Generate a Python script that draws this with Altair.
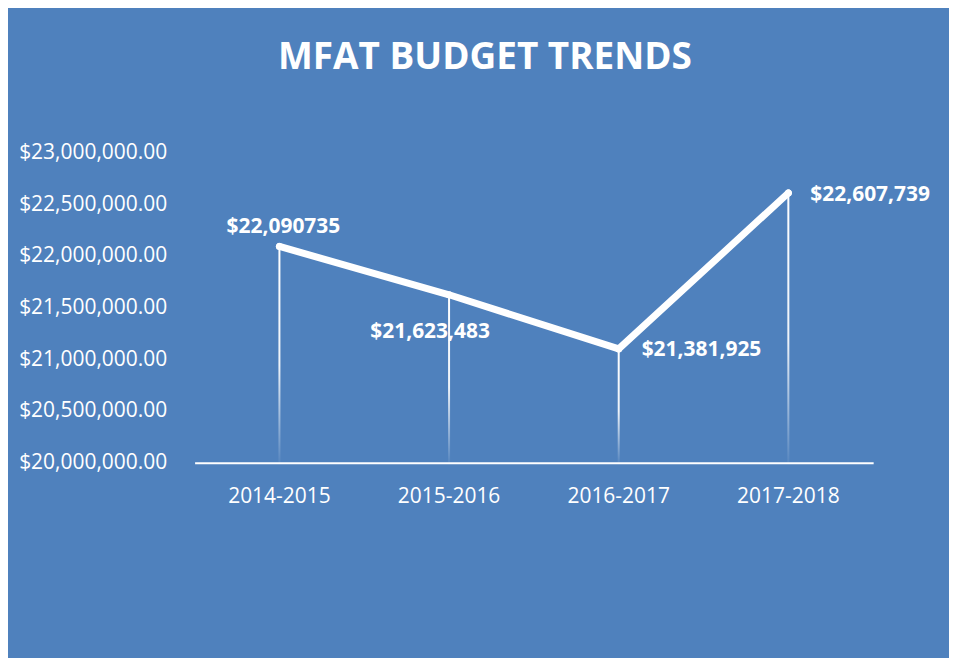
import altair as alt
import pandas as pd

# ---- data ----
years = ["2014-2015", "2015-2016", "2016-2017", "2017-2018"]
budget = [22090735, 21623483, 21100000, 22607739]          # plotted positions
label_text = ["$22,090735", "$21,623,483", "$21,381,925", "$22,607,739"]  # texts as printed
y_ticks = [20000000, 20500000, 21000000, 21500000, 22000000, 22500000, 23000000]

df = pd.DataFrame({"year": years, "value": budget, "label": label_text,
                   "base": [20000000] * len(years)})

BG = "#4F81BD"
FONT = "Open Sans"

x_enc = alt.X("year:N", sort=years, title=None,
              scale=alt.Scale(paddingInner=0, paddingOuter=0),
              axis=alt.Axis(domainColor="white", domainWidth=2, ticks=False, tickSize=0,
                            labelAngle=0, labelColor="white", labelFont=FONT,
                            labelFontSize=21, labelPadding=23, grid=False))
y_scale = alt.Scale(domain=[20000000, 23000000], nice=False, zero=False)
y_enc = alt.Y("value:Q", title=None, scale=y_scale,
              axis=alt.Axis(values=y_ticks, format="$,.2f", domain=False, ticks=False,
                            tickSize=0, grid=False, labelColor="white", labelFont=FONT,
                            labelFontSize=21, labelPadding=28))

base = alt.Chart(df)

drops = base.mark_bar(
    size=2,
    fill=alt.Gradient(gradient="linear", x1=0, y1=0, x2=0, y2=1,
                      stops=[alt.GradientStop(color="rgba(255,255,255,1)", offset=0),
                             alt.GradientStop(color="rgba(255,255,255,0.9)", offset=0.55),
                             alt.GradientStop(color="rgba(255,255,255,0.05)", offset=1)]),
).encode(x=x_enc, y=y_enc, y2="base:Q")

line = base.mark_line(color="white", strokeWidth=7, strokeCap="round",
                      strokeJoin="round").encode(x=x_enc, y=y_enc)

dots = base.mark_circle(color="white", size=50, opacity=1).encode(x=x_enc, y=y_enc)

# label placement (style, not data)
label_style = [
    dict(align="center", dx=4, dy=-19),
    dict(align="center", dx=-19, dy=37),
    dict(align="left", dx=23, dy=1),
    dict(align="left", dx=22, dy=2),
]
labels = []
for yr, st in zip(years, label_style):
    labels.append(
        base.transform_filter(alt.datum.year == yr).mark_text(
            color="white", font=FONT, fontSize=21, fontWeight="bold",
            baseline="middle", **st
        ).encode(x=x_enc, y=y_enc, text="label:N")
    )

chart = alt.layer(drops, line, dots, *labels).properties(
    width=680, height=311,
    autosize=alt.AutoSizeParams(type="none"),
    padding={"left": 187, "top": 144, "right": 76, "bottom": 195},
    background=BG,
    title=alt.TitleParams("MFAT BUDGET TRENDS", color="white", font=FONT, fontSize=37,
                          fontWeight="bold", anchor="middle", frame="group",
                          dx=-49, offset=65),
).configure_view(stroke=None)

chart.save("out.html", embed_options={"renderer": "svg", "actions": False})
